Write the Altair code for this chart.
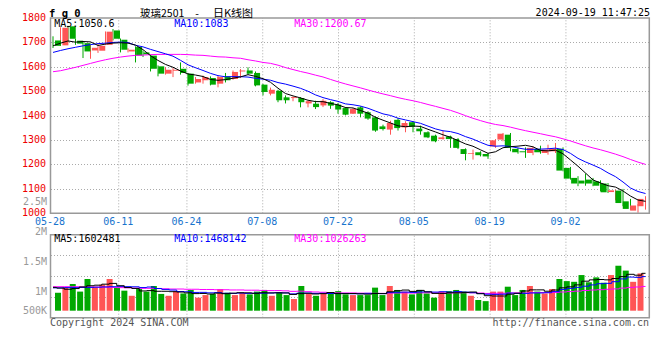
import altair as alt
import pandas as pd

# ---------------- data ----------------
dates = ["05-28", "05-29", "05-30", "05-31",
         "06-03", "06-04", "06-05", "06-06", "06-07",
         "06-11", "06-12", "06-13", "06-14",
         "06-17", "06-18", "06-19", "06-20", "06-21",
         "06-24", "06-25", "06-26", "06-27", "06-28",
         "07-01", "07-02", "07-03", "07-04", "07-05",
         "07-08", "07-09", "07-10", "07-11", "07-12",
         "07-15", "07-16", "07-17", "07-18", "07-19",
         "07-22", "07-23", "07-24", "07-25", "07-26",
         "07-29", "07-30", "07-31", "08-01", "08-02",
         "08-05", "08-06", "08-07", "08-08", "08-09",
         "08-12", "08-13", "08-14", "08-15", "08-16",
         "08-19", "08-20", "08-21", "08-22", "08-23",
         "08-26", "08-27", "08-28", "08-29", "08-30",
         "09-02", "09-03", "09-04", "09-05", "09-06",
         "09-09", "09-10", "09-11", "09-12", "09-13",
         "09-18", "09-19"]

opens = [1708, 1688, 1766, 1707, 1697, 1667, 1666, 1690, 1749, 1711,
         1663, 1681, 1659, 1646, 1602, 1572, 1584, 1592, 1572, 1536,
         1545, 1554, 1531, 1561, 1550, 1581, 1585, 1575, 1527, 1490,
         1502, 1475, 1472, 1472, 1450, 1449, 1442, 1455, 1445, 1431,
         1408, 1434, 1414, 1393, 1356, 1343, 1383, 1352, 1373, 1347,
         1332, 1318, 1304, 1315, 1304, 1263, 1244, 1250, 1243, 1274,
         1302, 1322, 1264, 1254, 1247, 1264, 1247, 1254, 1264, 1186,
         1145, 1134, 1138, 1131, 1122, 1087, 1093, 1049, 1011, 1029]
highs = [1725, 1762, 1768, 1715, 1703, 1690, 1697, 1745, 1755, 1716,
         1676, 1684, 1667, 1650, 1606, 1598, 1595, 1618, 1575, 1558,
         1564, 1561, 1564, 1575, 1585, 1591, 1598, 1581, 1530, 1515,
         1506, 1483, 1479, 1476, 1461, 1461, 1468, 1459, 1452, 1435,
         1431, 1438, 1418, 1397, 1363, 1379, 1390, 1377, 1377, 1359,
         1336, 1322, 1338, 1318, 1308, 1266, 1261, 1254, 1247, 1304,
         1329, 1329, 1268, 1270, 1274, 1277, 1281, 1288, 1270, 1190,
         1152, 1163, 1145, 1135, 1124, 1097, 1100, 1059, 1038, 1070]
lows = [1677, 1686, 1701, 1690, 1636, 1633, 1657, 1689, 1708, 1659,
        1659, 1618, 1640, 1581, 1561, 1568, 1558, 1568, 1523, 1531,
        1531, 1524, 1516, 1536, 1547, 1554, 1568, 1520, 1483, 1483,
        1455, 1450, 1459, 1434, 1434, 1427, 1435, 1428, 1408, 1401,
        1407, 1393, 1383, 1334, 1339, 1322, 1339, 1332, 1332, 1322,
        1308, 1291, 1302, 1268, 1263, 1217, 1220, 1233, 1223, 1268,
        1295, 1254, 1244, 1227, 1238, 1244, 1240, 1247, 1172, 1138,
        1111, 1113, 1111, 1090, 1083, 1053, 1029, 1015, 1002, 1015]
closes = [1686, 1760, 1715, 1695, 1663, 1678, 1686, 1744, 1715, 1670,
          1670, 1646, 1651, 1592, 1572, 1588, 1588, 1575, 1531, 1550,
          1558, 1527, 1558, 1545, 1579, 1585, 1572, 1524, 1497, 1506,
          1463, 1463, 1476, 1455, 1459, 1435, 1461, 1441, 1425, 1404,
          1427, 1408, 1388, 1339, 1345, 1370, 1349, 1370, 1354, 1336,
          1311, 1295, 1311, 1304, 1268, 1243, 1247, 1238, 1233, 1299,
          1326, 1268, 1250, 1250, 1268, 1250, 1261, 1264, 1175, 1142,
          1122, 1122, 1122, 1113, 1086, 1094, 1042, 1018, 1032, 1059]
volumes = [770000, 1000000, 1145000, 820000, 1360000, 1030000, 1120000, 1360000, 990000, 860000,
           640000, 930000, 820000, 1060000, 720000, 640000, 840000, 740000, 890000, 560000,
           670000, 720000, 930000, 770000, 670000, 770000, 700000, 820000, 890000, 640000,
           790000, 670000, 500000, 1060000, 720000, 640000, 740000, 740000, 840000, 700000,
           670000, 670000, 670000, 990000, 670000, 1060000, 890000, 820000, 700000, 890000,
           740000, 560000, 820000, 840000, 890000, 820000, 640000, 460000, 410000, 820000,
           820000, 1030000, 670000, 890000, 1060000, 820000, 740000, 930000, 1360000, 1270000,
           1240000, 1530000, 1220000, 1430000, 1200000, 1530000, 1930000, 1720000, 1240000, 1600000]

ma5_head = [1686, 1697, 1706, 1701]
ma10_head = [1659, 1667, 1674, 1680, 1686, 1691, 1695, 1697, 1700]
ma30_head = [1580, 1584, 1591, 1598, 1606, 1614, 1622, 1629, 1635, 1640,
             1644, 1647, 1648, 1650, 1651, 1651, 1651, 1651, 1650, 1648,
             1647, 1644, 1641, 1640, 1637, 1635, 1629, 1624, 1618]
vol_ma5_head = [1000000, 970000, 920000, 950000]
vol_ma10_head = [980000, 980000, 990000, 990000, 1000000, 1000000, 1010000, 1020000, 1030000]
vol_ma30_head = [1030000, 1030000, 1030000, 1030000, 1020000, 1020000, 1010000, 1010000, 1000000, 990000,
                 980000, 970000, 960000, 960000, 950000, 940000, 930000, 930000, 920000, 920000,
                 910000, 910000, 900000, 900000, 890000, 890000, 880000, 880000, 870000]

date_ticks = ["05-28", "06-11", "06-24", "07-08", "07-22", "08-05", "08-19", "09-02"]
price_ticks = [1000, 1100, 1200, 1300, 1400, 1500, 1600, 1700, 1800]
volume_ticks = [500000, 1000000, 1500000, 2000000, 2500000]

title_code = "f g 0"
title_parts = ["玻璃2501", "-", "日K线图"]
timestamp = "2024-09-19 11:47:25"
price_legend = ["MA5:1050.6", "MA10:1083", "MA30:1200.67"]
volume_legend = ["MA5:1602481", "MA10:1468142", "MA30:1026263"]
footer_left = "Copyright 2024 SINA.COM"
footer_right = "http://finance.sina.com.cn"

# ---------------- styles ----------------
UP, DOWN = "#ff5555", "#00a800"
MA_COLORS = ["#000000", "#0000ff", "#ff00ff"]
GRID = "#aaaaaa"
BORDER = "#999999"
MONO = "DejaVu Sans Mono"
CJK = "Noto Sans CJK SC"

n = len(dates)


def pad(h):
    return h + [None] * (n - len(h))


df = pd.DataFrame({
    "idx": list(range(n)), "date": dates,
    "open": opens, "high": highs, "low": lows, "close": closes, "volume": volumes,
    "h_ma5": pad(ma5_head), "h_ma10": pad(ma10_head), "h_ma30": pad(ma30_head),
    "h_vma5": pad(vol_ma5_head), "h_vma10": pad(vol_ma10_head), "h_vma30": pad(vol_ma30_head),
})
df["dir"] = ["up" if c >= o else "down" for o, c in zip(opens, closes)]

tick_idx = [dates.index(d) for d in date_ticks]
tick_df = pd.DataFrame({"idx": tick_idx, "label": date_ticks})

W, H = 599, 300
X_C = alt.Scale(domain=[0, n - 1], range=[2.5, 595], nice=False, zero=False)
X_G = alt.Scale(domain=[0, n - 1], range=[0, 598.8], nice=False, zero=False)
Y_P = alt.Scale(domain=[1000, 1800], range=[195.3, 0], nice=False, zero=False)
Y_V = alt.Scale(domain=[0, 3000000], range=[292.7, 222.8], nice=False, zero=False)
Y_VL = alt.Scale(domain=[500000, 1000000, 2500000], range=[292.7, 273, 183], nice=False, zero=False)
Y_VG = alt.Scale(domain=[0, 4], range=[299.7, 216.7], nice=False, zero=False)

label_arr = "[" + ",".join("'%s'" % d for d in date_ticks) + "]"
idx_arr = "[" + ",".join(str(i) for i in tick_idx) + "]"

date_axis = alt.Axis(values=tick_idx, labelExpr=f"{label_arr}[indexof({idx_arr}, datum.value)]",
                     orient="bottom", offset=-(H - 195.3), domain=False, ticks=False, tickSize=0,
                     grid=False, labelColor="#1874cd", labelFont=MONO, labelFontSize=10,
                     labelPadding=3.5, labelOffset=-1, labelOverlap=False, labelFlush=False, title=None)
price_axis = alt.Axis(values=price_ticks, format="d", orient="left", domain=False, ticks=False, tickSize=0,
                      grid=False, labelColor="#ee0000", labelFont=MONO, labelFontSize=10,
                      labelPadding=5, labelOverlap=False, labelOffset=-0.5, title=None)
price_grid_axis = alt.Axis(values=price_ticks[1:-1], orient="left", domain=False, ticks=False,
                           labels=False, grid=True, gridColor=GRID, gridDash=[1, 2], gridWidth=1, title=None)
vol_label_axis = alt.Axis(values=volume_ticks, orient="left", domain=False, ticks=False, tickSize=0,
                          grid=False, labelColor="#999999", labelFont=MONO, labelFontSize=10,
                          labelPadding=4, labelOverlap=False, title=None,
                          labelExpr="datum.value >= 1000000 ? (datum.value/1000000) + 'M' : (datum.value/1000) + 'K'")
vol_grid_axis = alt.Axis(values=[1, 2, 3], orient="left", domain=False, ticks=False, labels=False,
                         grid=True, gridColor=GRID, gridDash=[1, 2], gridWidth=1, title=None)

color_enc = alt.Color("dir:N", scale=alt.Scale(domain=["up", "down"], range=[UP, DOWN]), legend=None)
x_c = alt.X("idx:Q", scale=X_C, axis=None)
base = alt.Chart(df)
one = alt.Data(values=[{}])

vgrid_main = alt.Chart(tick_df).mark_rule(color=GRID, strokeDash=[1, 2], strokeWidth=1).encode(
    x=alt.X("idx:Q", scale=X_G, axis=date_axis),
    y=alt.YDatum(1000, scale=Y_P, axis=price_grid_axis), y2=alt.Y2Datum(1800))
vgrid_vol = alt.Chart(tick_df).mark_rule(color=GRID, strokeDash=[1, 2], strokeWidth=1).encode(
    x=alt.X("idx:Q", scale=X_G, axis=None),
    y=alt.YDatum(0, scale=Y_VG, axis=vol_grid_axis), y2=alt.Y2Datum(4))

wicks = base.mark_rule(strokeWidth=1).encode(
    x=x_c, y=alt.Y("low:Q", scale=Y_P, axis=price_axis), y2="high:Q", color=color_enc)
bodies = base.mark_bar(size=6).encode(
    x=x_c, y=alt.Y("open:Q", scale=Y_P, axis=None), y2="close:Q", color=color_enc)
vol_bars = base.mark_bar(size=6).encode(
    x=x_c, y=alt.Y("volume:Q", scale=Y_V, axis=None), color=color_enc)


def ma_line(field, win, head, color, yscale, step=False):
    return base.transform_window(
        ma=f"mean({field})", cnt="count()", frame=[-(win - 1), 0], sort=[alt.SortField("idx")]
    ).transform_calculate(
        val=f"datum.cnt < {win} ? datum.{head} : datum.ma"
    ).mark_line(color=color, strokeWidth=1, interpolate="step" if step else "linear").encode(
        x=x_c, y=alt.Y("val:Q", scale=yscale, axis=None))


ma30 = ma_line("close", 30, "h_ma30", MA_COLORS[2], Y_P)
ma10 = ma_line("close", 10, "h_ma10", MA_COLORS[1], Y_P)
ma5 = ma_line("close", 5, "h_ma5", MA_COLORS[0], Y_P)
vma30 = ma_line("volume", 30, "h_vma30", MA_COLORS[2], Y_V, step=True)
vma10 = ma_line("volume", 10, "h_vma10", MA_COLORS[1], Y_V, step=True)
vma5 = ma_line("volume", 5, "h_vma5", MA_COLORS[0], Y_V, step=True)

box_main = alt.Chart(one).mark_rect(fill="transparent", stroke=BORDER, strokeWidth=1.5).encode(
    x=alt.XDatum(0, scale=X_G, axis=None), x2=alt.X2Datum(n - 1),
    y=alt.YDatum(1000, scale=Y_P, axis=None), y2=alt.Y2Datum(1800))
box_vol = alt.Chart(one).mark_rect(fill="transparent", stroke=BORDER, strokeWidth=1.5).encode(
    x=alt.XDatum(0, scale=X_G, axis=None), x2=alt.X2Datum(n - 1),
    y=alt.YDatum(0, scale=Y_VG, axis=None), y2=alt.Y2Datum(4))

vol_labels = alt.Chart(pd.DataFrame({"v": volume_ticks})).mark_point(opacity=0).encode(
    y=alt.Y("v:Q", scale=Y_VL, axis=vol_label_axis))


def text(s, x, y, color="#000000", size=10, align="left", weight="normal", font=MONO,
         baseline="middle"):
    return alt.Chart(one).mark_text(text=s, align=align, baseline=baseline, color=color,
                                    fontSize=size, fontWeight=weight, font=font).encode(
        x=alt.value(x), y=alt.value(y))


texts = [
    text(title_code, -1.5, -1.5, size=10.5, weight="bold", baseline="alphabetic"),
    text(title_parts[0], 89.5, -1, size=10.5, font=CJK, baseline="alphabetic"),
    text(title_parts[1], 146.5, -1, size=10.5, font=CJK, baseline="alphabetic", align="center"),
    text(title_parts[2], 162.5, -1, size=11, font=CJK, baseline="alphabetic"),
    text(timestamp, 599.5, -2, align="right", baseline="alphabetic"),
    text(price_legend[0], 3.8, 5.7, MA_COLORS[0]),
    text(price_legend[1], 123.8, 5.7, MA_COLORS[1]),
    text(price_legend[2], 243.8, 5.7, MA_COLORS[2]),
    text(volume_legend[0], 3.8, 220.5, MA_COLORS[0]),
    text(volume_legend[1], 123.8, 220.5, MA_COLORS[1]),
    text(volume_legend[2], 243.8, 220.5, MA_COLORS[2]),
    text(footer_left, -0.5, 305, "#555555"),
    text(footer_right, 598.5, 305, "#555555", align="right"),
]

chart = alt.layer(
    vgrid_main, vgrid_vol, wicks, bodies, vol_bars,
    ma30, ma10, ma5, vma30, vma10, vma5,
    box_main, box_vol, vol_labels, *texts
).resolve_scale(x="independent", y="independent").properties(
    width=W, height=H,
    autosize=alt.AutoSizeParams(type="none"),
    padding={"left": 42.5, "top": 10, "right": 2, "bottom": 20},
).configure_view(stroke=None)

chart.save("out.html", embed_options={"renderer": "svg", "actions": False})
